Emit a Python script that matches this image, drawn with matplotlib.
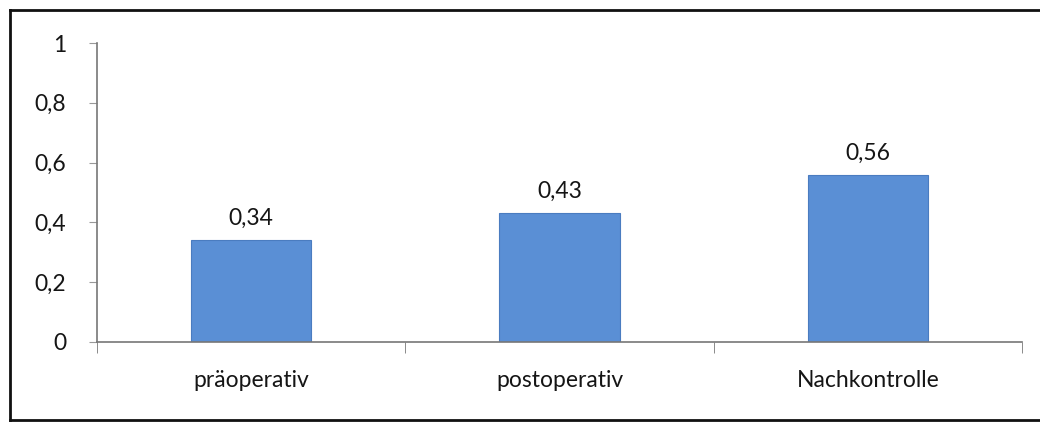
import matplotlib.pyplot as plt
from matplotlib.lines import Line2D

# data
categories = ['präoperativ', 'postoperativ', 'Nachkontrolle']
values = [0.34, 0.43, 0.56]
yticks = [0, 0.2, 0.4, 0.6, 0.8, 1]
ytick_labels = ['0', '0,2', '0,4', '0,6', '0,8', '1']

plt.rcParams['font.family'] = ['Lato', 'DejaVu Sans']

fig = plt.figure(figsize=(10.4, 4.23), dpi=100)
ax = fig.add_axes([97 / 1040, 1 - 342 / 423, 925 / 1040, 299 / 423])

x = range(len(categories))
ax.bar(x, values, width=0.39, color='#5a8fd5', edgecolor='#4a7cc0', linewidth=0.8, zorder=2)
for i, v in zip(x, values):
    ax.annotate(f'{v:.2f}'.replace('.', ','), (i, v), xytext=(0, 8), textcoords='offset points',
                ha='center', va='bottom', fontsize=16.5, color='#151515')

ax.set_xlim(-0.5, len(categories) - 0.5)
ax.set_ylim(0, 1)
ax.set_yticks(yticks)
ax.set_yticklabels(ytick_labels, fontsize=16.5, color='#151515')
ax.set_xticks(list(x))
ax.set_xticklabels(categories, fontsize=16.5, color='#151515')
ax.tick_params(axis='x', length=0, pad=20)
ax.tick_params(axis='y', length=6, color='#999999', pad=16)
# category boundary ticks
ax.set_xticks([-0.5, 0.5, 1.5, 2.5], minor=True)
ax.tick_params(axis='x', which='minor', length=8, color='#777777', direction='out')

for s in ['top', 'right']:
    ax.spines[s].set_visible(False)
for s in ['left', 'bottom']:
    ax.spines[s].set_color('#777777')
    ax.spines[s].set_linewidth(1.2)

# scanned page frame: left, top, bottom lines
fx0, fx1 = 10 / 1040, 1.0
fy0, fy1 = 1 - 420 / 423, 1 - 10 / 423
for xs, ys in [([fx0, fx0], [fy0, fy1]), ([fx0, fx1], [fy1, fy1]), ([fx0, fx1], [fy0, fy0])]:
    fig.add_artist(Line2D(xs, ys, transform=fig.transFigure, color='#111111', linewidth=2))

fig.savefig('out.png', dpi=100)
